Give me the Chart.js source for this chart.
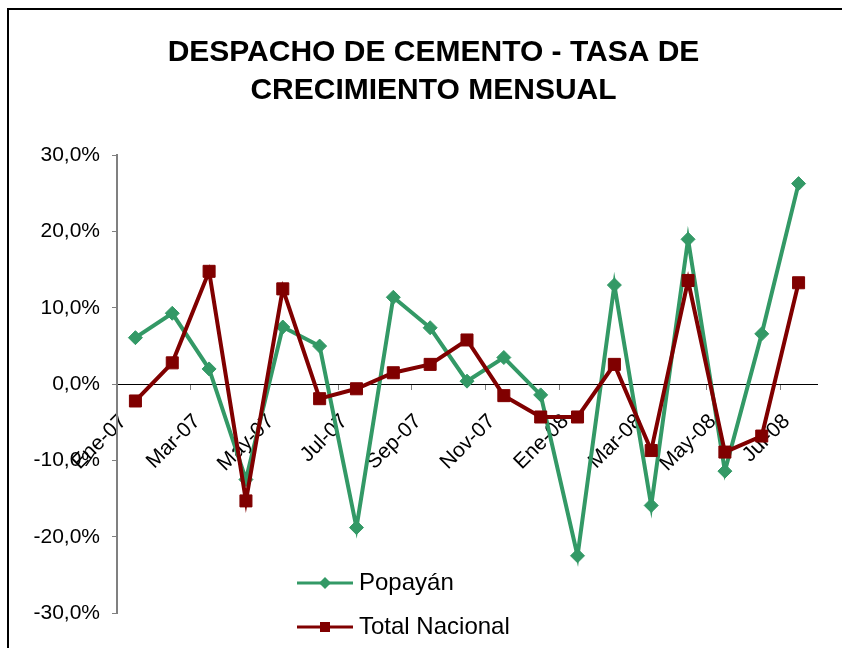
<!DOCTYPE html>
<html lang="es">
<head>
  <meta charset="UTF-8">
  <title>Despacho de cemento</title>
  <script src="https://cdn.jsdelivr.net/npm/chart.js"></script>
  <style>
    body { margin: 0; background: #fff; overflow: hidden; }
    #wrap { position: relative; width: 842px; height: 648px; }
    #frame { position: absolute; left: 7px; top: 8px; width: 900px; height: 700px;
             border-left: 2px solid #000; border-top: 2px solid #000; pointer-events: none; }
  </style>
</head>
<body>
  <div id="wrap">
    <canvas id="chart" width="842" height="648"></canvas>
    <div id="frame"></div>
  </div>

  <script>
    const months = ['Ene-07','Feb-07','Mar-07','Abr-07','May-07','Jun-07','Jul-07','Ago-07','Sep-07','Oct-07',
                    'Nov-07','Dic-07','Ene-08','Feb-08','Mar-08','Abr-08','May-08','Jun-08','Jul-08'];
    const popayan  = [6.1, 9.3, 2.0, -12.5, 7.5, 5.0, -18.8, 11.4, 7.4, 0.4, 3.5, -1.4, -22.5, 13.0, -15.9, 19.0, -11.4, 6.6, 26.3];
    const nacional = [-2.2, 2.8, 14.8, -15.3, 12.5, -1.9, -0.6, 1.5, 2.6, 5.8, -1.5, -4.3, -4.3, 2.6, -8.7, 13.6, -8.9, -6.8, 13.3];
    const yTicks = [-30, -20, -10, 0, 10, 20, 30];

    const GREEN = '#339966';
    const RED = '#800000';

    Chart.defaults.font.family = "'Liberation Sans', Arial, sans-serif";
    Chart.defaults.color = '#000';

    // legend icon: line with marker in the middle, like the spreadsheet legend
    function legendIcon(color, shape) {
      const c = document.createElement('canvas');
      c.width = 56; c.height = 16;
      const g = c.getContext('2d');
      g.strokeStyle = color; g.fillStyle = color; g.lineWidth = 3;
      g.beginPath(); g.moveTo(0, 8); g.lineTo(56, 8); g.stroke();
      g.beginPath();
      if (shape === 'diamond') {
        g.moveTo(28, 2); g.lineTo(34, 8); g.lineTo(28, 14); g.lineTo(22, 8);
      } else {
        g.rect(23, 3, 10, 10);
      }
      g.closePath(); g.fill();
      return c;
    }
    const icons = [legendIcon(GREEN, 'diamond'), legendIcon(RED, 'square')];

    // legend sits inside the plot, bottom centre; title is centred on the frame
    const placeBoxes = {
      id: 'placeBoxes',
      afterLayout(chart) {
        const lg = chart.legend;
        lg.left = 283; lg.top = 551;
        lg.right = lg.left + lg.width; lg.bottom = lg.top + lg.height;
        const t = chart.titleBlock;
        t.left += 20; t.right += 20;
      }
    };

    new Chart(document.getElementById('chart'), {
      type: 'line',
      data: {
        labels: months,
        datasets: [
          {
            label: 'Popayán', data: popayan, order: 1,
            borderColor: GREEN, backgroundColor: GREEN, borderWidth: 4,
            pointStyle: 'rectRot', pointRadius: 7, pointBorderWidth: 1, tension: 0
          },
          {
            label: 'Total Nacional', data: nacional, order: 0,
            borderColor: RED, backgroundColor: RED, borderWidth: 4,
            pointStyle: 'rect', pointRadius: 8.5, pointBorderWidth: 1, tension: 0
          }
        ]
      },
      options: {
        responsive: false,
        animation: false,
        layout: { padding: { left: 10, right: 25, top: 10, bottom: 35 } },
        plugins: {
          title: {
            display: true,
            text: ['DESPACHO DE CEMENTO - TASA DE', 'CRECIMIENTO MENSUAL'],
            color: '#000',
            font: { size: 30, weight: 'bold', lineHeight: 1.29 },
            padding: { top: 23, bottom: 45 }
          },
          legend: {
            position: 'chartArea',
            align: 'start',
            labels: {
              usePointStyle: true,
              pointStyleWidth: 44,
              padding: 20,
              color: '#000',
              font: { size: 24 },
              sort: (a, b) => a.datasetIndex - b.datasetIndex,
              generateLabels(chart) {
                const items = Chart.defaults.plugins.legend.labels.generateLabels(chart);
                items.forEach(it => { it.pointStyle = icons[it.datasetIndex]; });
                return items;
              }
            }
          },
          tooltip: { enabled: false }
        },
        scales: {
          x: {
            position: { y: 0 },
            offset: true,
            grid: {
              drawOnChartArea: false, drawTicks: true, tickLength: 5, offset: true,
              color: ctx => (ctx.index % 2 === 0 ? '#808080' : 'rgba(0,0,0,0)')
            },
            border: { color: '#000', width: 1 },
            ticks: {
              autoSkip: false, minRotation: 45, maxRotation: 45, padding: 20, labelOffset: -12,
              font: { size: 21 },
              callback: (v, i) => (i % 2 === 0 ? months[i] : '')
            }
          },
          y: {
            min: yTicks[0], max: yTicks[yTicks.length - 1],
            afterFit: s => { s.width = 107; },
            grid: { drawOnChartArea: false, tickLength: 5, color: '#808080' },
            border: { color: '#808080', width: 2 },
            ticks: {
              stepSize: 10, padding: 12,
              font: { size: 21 },
              callback: v => v.toFixed(1).replace('.', ',') + '%'
            }
          }
        }
      },
      plugins: [placeBoxes]
    });
  </script>
</body>
</html>
